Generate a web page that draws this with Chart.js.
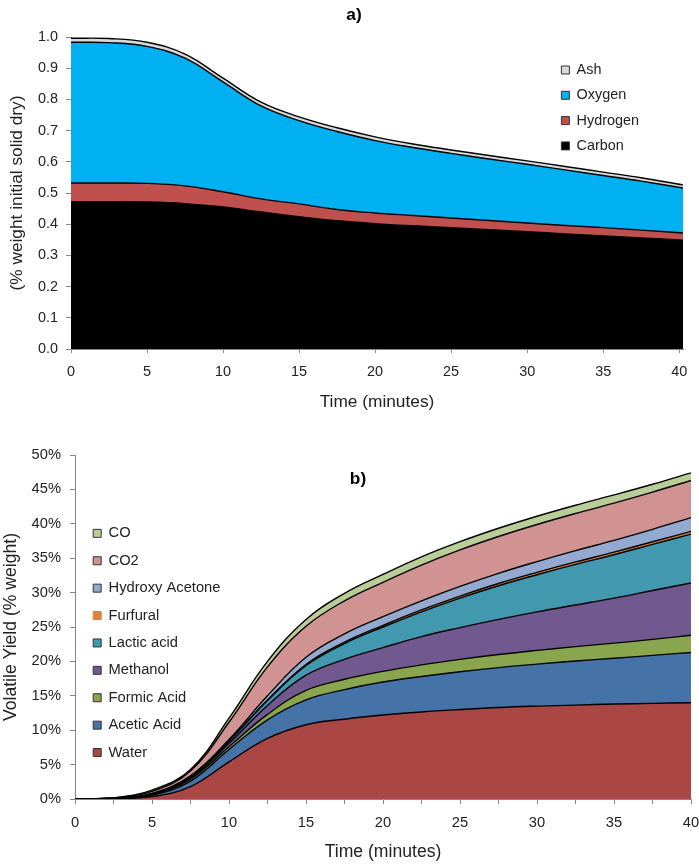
<!DOCTYPE html>
<html><head><meta charset="utf-8">
<script src="https://cdn.jsdelivr.net/npm/chart.js@4.4.1/dist/chart.umd.min.js"></script>
<style>
html,body{margin:0;padding:0;background:#fff;}
#wrap{position:relative;width:699px;height:868px;background:#fff;}
#c1{position:absolute;left:0;top:0;}
#c2{position:absolute;left:0;top:430px;}
</style></head><body>
<div id="wrap"><canvas id="c1" width="699" height="430"></canvas><canvas id="c2" width="699" height="438"></canvas></div>
<script>
// ---- Chart a) solid composition ----
const timeA = [0,2.5,5,7.5,10,12.5,15,17.5,20,22.5,25,27.5,30,32.5,35,37.5,40.25];
const carbon   = [0.472,0.472,0.471,0.466,0.455,0.439,0.424,0.411,0.402,0.395,0.389,0.382,0.376,0.369,0.362,0.356,0.349];
const hydrogen = [0.060,0.060,0.060,0.057,0.049,0.042,0.041,0.036,0.034,0.033,0.031,0.030,0.028,0.027,0.027,0.025,0.023];
const oxygen   = [0.451,0.450,0.439,0.409,0.352,0.298,0.267,0.250,0.232,0.218,0.207,0.197,0.188,0.178,0.167,0.157,0.144];
const ash      = [0.013,0.013,0.013,0.013,0.012,0.012,0.012,0.012,0.012,0.011,0.011,0.011,0.011,0.011,0.011,0.011,0.010];
const seriesA  = ['Carbon','Hydrogen','Oxygen','Ash'];

// ---- Chart b) volatile yields (% weight) ----
const timeB = [0,2.5,5,7.5,10,12.5,15,17.5,20,22.5,25,27.5,30,32.5,35,37.5,40];
const water    = [0,0.05,0.35,1.8,5.4,8.8,10.8,11.6,12.2,12.65,13.0,13.3,13.5,13.65,13.8,13.9,14.0];
const acetic   = [0,0.02,0.2,0.8,1.8,2.7,3.6,4.3,4.8,5.15,5.5,5.8,6.1,6.4,6.65,6.98,7.3];
const formic   = [0,0.01,0.07,0.3,0.4,0.8,1.4,1.5,1.55,1.7,1.8,1.9,2.0,2.1,2.2,2.32,2.5];
const methanol = [0,0.01,0.08,0.2,0.5,1.3,2.2,2.9,3.45,4.1,4.6,5.1,5.6,6.05,6.55,7.1,7.6];
const lactic   = [0,0.01,0.05,0.15,0.3,0.7,1.4,2.3,3.0,3.6,4.3,4.9,5.4,5.9,6.3,6.7,7.1];
const furfural = [0,0,0.01,0.03,0.06,0.1,0.15,0.2,0.25,0.28,0.3,0.32,0.34,0.36,0.38,0.39,0.4];
const hydroxy  = [0,0.01,0.04,0.1,0.2,0.6,1.05,1.2,1.25,1.32,1.4,1.48,1.56,1.64,1.72,1.81,2.0];
const co2      = [0,0.04,0.3,0.7,2.5,4.2,4.5,4.8,5.0,5.2,5.3,5.35,5.4,5.4,5.4,5.4,5.4];
const co       = [0,0.02,0.2,0.2,0.6,0.8,1.0,1.1,1.15,1.2,1.2,1.2,1.2,1.2,1.2,1.15,1.1];
const seriesB  = ['Water','Acetic Acid','Formic Acid','Methanol','Lactic acid','Furfural','Hydroxy Acetone','CO2','CO'];

const FONT = '"Liberation Sans", Arial, sans-serif';
Chart.defaults.font.family = FONT;
Chart.defaults.color = '#222';
const AXIS = '#868686';

function pts(xs, ys){ return xs.map((x,i)=>({x:x, y:ys[i]})); }
function ds(label, xs, ys, color, idx){
  return {label:label, data:pts(xs,ys), backgroundColor:color, borderColor:'#000',
    borderWidth:1.4, pointRadius:0, pointHoverRadius:0,
    fill: idx===0 ? 'origin' : '-1', tension:0.4};
}

const panelLabel = { id:'panelLabel', afterDraw(chart, args, o){
  if(!o || !o.text) return;
  const c = chart.ctx; c.save();
  c.font = 'bold 17.3px ' + FONT; c.fillStyle = '#000';
  c.textAlign = 'center'; c.textBaseline = 'middle';
  c.fillText(o.text, o.x, o.y); c.restore();
}};
const legendPlace = { id:'legendPlace', afterLayout(chart, args, o){
  const lg = chart.legend; if(!lg || !o) return;
  const w = lg.width, h = lg.height;
  lg.left = o.x; lg.top = o.y; lg.right = o.x + w; lg.bottom = o.y + h;
}};
function genLabels(noBorder){
  return function(chart){
    const items = Chart.defaults.plugins.legend.labels.generateLabels(chart);
    items.forEach(it=>{ it.lineWidth = 1; it.strokeStyle = '#333';
      if(noBorder && noBorder.indexOf(it.text)>=0){ it.strokeStyle = it.fillStyle; } });
    return items;
  };
}

// ---------- Chart a ----------
new Chart(document.getElementById('c1'), {
  type:'line',
  data:{ datasets:[
    ds(seriesA[0], timeA, carbon,   '#000000', 0),
    ds(seriesA[1], timeA, hydrogen, '#C0504D', 1),
    ds(seriesA[2], timeA, oxygen,   '#00B0F0', 2),
    ds(seriesA[3], timeA, ash,      '#D9D9D9', 3)
  ]},
  options:{
    responsive:false, animation:false, devicePixelRatio:1,
    layout:{padding:{top:37,left:0,right:16,bottom:0}},
    plugins:{
      legend:{display:true, position:'chartArea', align:'start', reverse:true,
        labels:{boxWidth:8, boxHeight:8, padding:10.9, font:{size:14.4}, color:'#222', generateLabels:genLabels()}},
      tooltip:{enabled:false},
      panelLabel:{text:'a)', x:354, y:15.5},
      legendPlace:{x:550.5, y:51.9}
    },
    scales:{
      x:{type:'linear', min:0, max:40.25,
        ticks:{stepSize:5, includeBounds:false, autoSkip:false, maxRotation:0, padding:10.4, font:{size:14.4}, color:'#222'},
        grid:{display:true, drawOnChartArea:false, drawTicks:true, tickLength:4, color:AXIS},
        border:{display:true, color:AXIS, width:1},
        title:{display:true, text:'Time (minutes)', font:{size:17.3}, color:'#222', padding:{top:0,bottom:17.6}},
        afterFit(s){ s.height = 81; s.paddingLeft = 0; s.paddingRight = 0; }
      },
      y:{type:'linear', stacked:true, min:0, max:1,
        ticks:{stepSize:0.1, padding:8, font:{size:14.4}, color:'#222', callback:v=>Number(v).toFixed(1)},
        grid:{display:true, drawOnChartArea:false, drawTicks:true, tickLength:5, color:AXIS},
        border:{display:true, color:AXIS, width:1},
        title:{display:true, text:'(% weight initial solid dry)', font:{size:17.3}, color:'#222', padding:{top:6.8,bottom:0}},
        afterFit(s){ s.width = 71; }
      }
    }
  },
  plugins:[panelLabel, legendPlace]
});

// ---------- Chart b ----------
new Chart(document.getElementById('c2'), {
  type:'line',
  data:{ datasets:[
    ds(seriesB[0], timeB, water,    '#AA4643', 0),
    ds(seriesB[1], timeB, acetic,   '#4572A7', 1),
    ds(seriesB[2], timeB, formic,   '#89A54E', 2),
    ds(seriesB[3], timeB, methanol, '#71588F', 3),
    ds(seriesB[4], timeB, lactic,   '#4198AF', 4),
    ds(seriesB[5], timeB, furfural, '#DB843D', 5),
    ds(seriesB[6], timeB, hydroxy,  '#93A9CF', 6),
    ds(seriesB[7], timeB, co2,      '#D19392', 7),
    ds(seriesB[8], timeB, co,       '#B9CD96', 8)
  ]},
  options:{
    responsive:false, animation:false, devicePixelRatio:1,
    layout:{padding:{top:25,left:0,right:8,bottom:0}},
    plugins:{
      legend:{display:true, position:'chartArea', align:'start', reverse:true,
        labels:{boxWidth:8, boxHeight:8, padding:12.7, font:{size:14.7}, color:'#222', generateLabels:genLabels(['Furfural'])}},
      tooltip:{enabled:false},
      panelLabel:{text:'b)', x:358, y:49},
      legendPlace:{x:80.5, y:83.3}
    },
    scales:{
      x:{type:'linear', min:0, max:40,
        ticks:{stepSize:2.5, includeBounds:false, autoSkip:false, maxRotation:0, padding:10.2, font:{size:14.7}, color:'#222',
          callback:v=> (Math.abs(v % 5) < 1e-9 ? String(v) : '')},
        grid:{display:true, drawOnChartArea:false, drawTicks:true, tickLength:5, color:AXIS},
        border:{display:true, color:AXIS, width:1},
        title:{display:true, text:'Time (minutes)', font:{size:17.6}, color:'#222', padding:{top:0,bottom:5.4}},
        afterFit(s){ s.height = 69; s.paddingLeft = 0; s.paddingRight = 0; }
      },
      y:{type:'linear', stacked:true, min:0, max:50,
        ticks:{stepSize:5, padding:9, font:{size:14.7}, color:'#222', callback:v=>v+'%'},
        grid:{display:true, drawOnChartArea:false, drawTicks:true, tickLength:5, color:AXIS},
        border:{display:true, color:AXIS, width:1},
        title:{display:true, text:'Volatile Yield (% weight)', font:{size:17.6}, color:'#222', padding:{top:0.5,bottom:0}},
        afterFit(s){ s.width = 75; }
      }
    }
  },
  plugins:[panelLabel, legendPlace]
});
</script>
</body></html>
